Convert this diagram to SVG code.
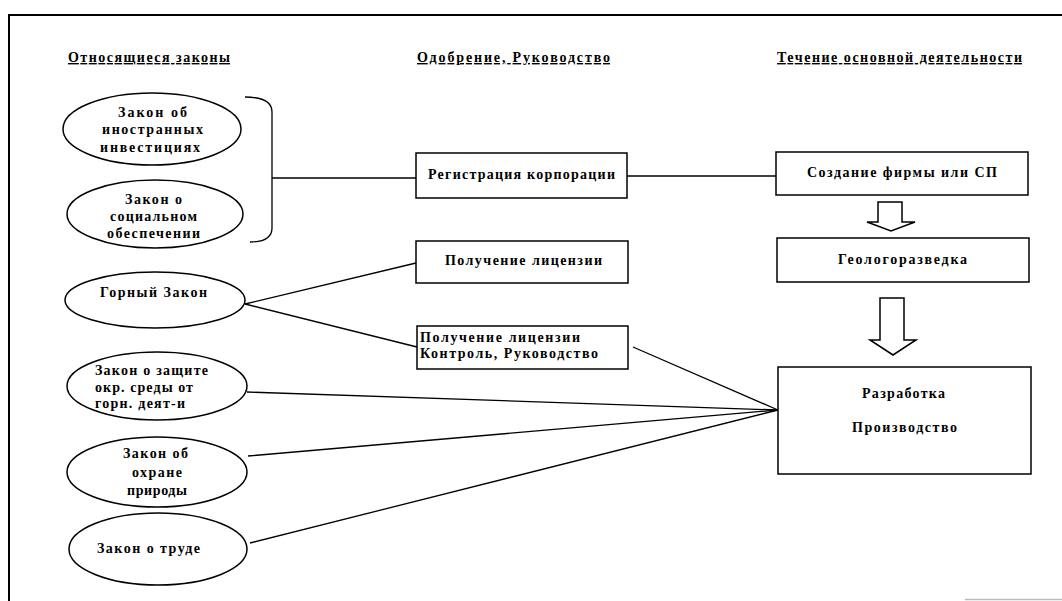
<svg xmlns="http://www.w3.org/2000/svg" width="1062" height="601" viewBox="0 0 1062 601">
<style>
text{font-family:"Liberation Serif","Times New Roman",serif;font-size:14px;font-weight:bold;fill:#000}
.h{text-decoration:underline}
.n{fill:#fff;stroke:#000;stroke-width:1.5}
.c{fill:none;stroke:#000;stroke-width:1.3}
.f{fill:none;stroke:#000;stroke-width:2}
</style>
<rect width="1062" height="601" fill="#fff"/>
<g id="frame">
<path class="f" d="M9,601 V15 H1062"/>
<line x1="965" y1="599.5" x2="1062" y2="599.5" stroke="#bbb" stroke-width="1.5"/>
</g>
<g id="headers">
<text class="h" x="68" y="62" textLength="162" lengthAdjust="spacing">Относящиеся законы</text>
<text class="h" x="417" y="62" textLength="193" lengthAdjust="spacing">Одобрение, Руководство</text>
<text class="h" x="777" y="62" textLength="245" lengthAdjust="spacing">Течение основной деятельности</text>
</g>
<g id="connectors">
<path class="c" d="M245,97 Q272,97 272,112 V228 Q272,242 250,242"/>
<line class="c" x1="272" y1="178" x2="416" y2="178"/>
<line class="c" x1="627" y1="176" x2="776" y2="176"/>
<line class="c" x1="245" y1="304" x2="416" y2="263"/>
<line class="c" x1="245" y1="304" x2="417" y2="347"/>
<line class="c" x1="633" y1="347" x2="778" y2="410"/>
<line class="c" x1="247" y1="392" x2="778" y2="410"/>
<line class="c" x1="248" y1="456" x2="778" y2="410"/>
<line class="c" x1="250" y1="543" x2="778" y2="410"/>
<polygon class="n" points="878,202 902,202 902,222 915,222 891,231 867,222 878,222"/>
<polygon class="n" points="880,298 904,298 904,340 916,340 893,355 870,340 880,340"/>
</g>
<g id="law-foreign">
<ellipse class="n" cx="152" cy="129" rx="89" ry="36"/>
<text x="118" y="117" textLength="69" lengthAdjust="spacing">Закон об</text>
<text x="102" y="134" textLength="101" lengthAdjust="spacing">иностранных</text>
<text x="100" y="152" textLength="100" lengthAdjust="spacing">инвестициях</text>
</g>
<g id="law-social">
<ellipse class="n" cx="155" cy="214" rx="88" ry="34"/>
<text x="125" y="204" textLength="57" lengthAdjust="spacing">Закон о</text>
<text x="110" y="221" textLength="87" lengthAdjust="spacing">социальном</text>
<text x="107" y="238" textLength="93" lengthAdjust="spacing">обеспечении</text>
</g>
<g id="law-mining">
<ellipse class="n" cx="155" cy="300" rx="90" ry="28"/>
<text x="100" y="297" textLength="107" lengthAdjust="spacing">Горный Закон</text>
</g>
<g id="law-env-mining">
<ellipse class="n" cx="157" cy="386" rx="90" ry="34"/>
<text x="95" y="375" textLength="113" lengthAdjust="spacing">Закон о защите</text>
<text x="95" y="392" textLength="98" lengthAdjust="spacing">окр. среды от</text>
<text x="95" y="408" textLength="90" lengthAdjust="spacing">горн. деят-и</text>
</g>
<g id="law-nature">
<ellipse class="n" cx="157" cy="472" rx="90" ry="35"/>
<text x="123" y="458" textLength="65" lengthAdjust="spacing">Закон об</text>
<text x="132" y="477" textLength="50" lengthAdjust="spacing">охране</text>
<text x="127" y="495" textLength="60" lengthAdjust="spacing">природы</text>
</g>
<g id="law-labour">
<ellipse class="n" cx="158" cy="549" rx="89" ry="36"/>
<text x="97" y="553" textLength="103" lengthAdjust="spacing">Закон о труде</text>
</g>
<g id="registration">
<rect class="n" x="416" y="153" width="211" height="45"/>
<text x="428" y="179" textLength="187" lengthAdjust="spacing">Регистрация корпорации</text>
</g>
<g id="license">
<rect class="n" x="416" y="241" width="212" height="42"/>
<text x="445" y="265" textLength="157" lengthAdjust="spacing">Получение лицензии</text>
</g>
<g id="license-control">
<rect class="n" x="417" y="326" width="211" height="43"/>
<text x="420" y="342" textLength="160" lengthAdjust="spacing">Получение лицензии</text>
<text x="420" y="358" textLength="178" lengthAdjust="spacing">Контроль, Руководство</text>
</g>
<g id="firm">
<rect class="n" x="776" y="152" width="252" height="43"/>
<text x="807" y="177" textLength="190" lengthAdjust="spacing">Создание фирмы или СП</text>
</g>
<g id="exploration">
<rect class="n" x="777" y="238" width="252" height="44"/>
<text x="838" y="264" textLength="129" lengthAdjust="spacing">Геологоразведка</text>
</g>
<g id="development">
<rect class="n" x="778" y="367" width="253" height="107"/>
<text x="862" y="398" textLength="83" lengthAdjust="spacing">Разработка</text>
<text x="852" y="432" textLength="105" lengthAdjust="spacing">Производство</text>
</g>
</svg>
